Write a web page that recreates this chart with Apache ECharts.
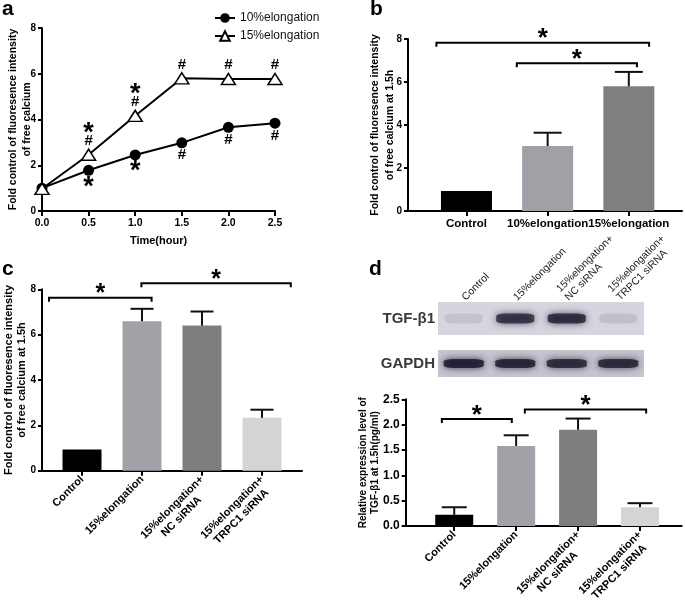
<!DOCTYPE html>
<html><head><meta charset="utf-8">
<script src="https://cdn.jsdelivr.net/npm/echarts@6/dist/echarts.min.js"></script>
<style>html,body{margin:0;padding:0;background:#fff}#c{width:685px;height:602px}</style>
</head><body><div id="c"></div>
<script>
// ---------- Panel a : time course ----------
const timeHours = [0, 0.5, 1.0, 1.5, 2.0, 2.5];
const elong10 = [1.0, 1.78, 2.45, 2.98, 3.66, 3.84];
const elong15 = [0.97, 2.46, 4.16, 5.80, 5.77, 5.77];
const marks10 = ['', '*', '*', '#', '#', '#'];
const marks15 = ['', '*#', '*#', '#', '#', '#'];
const seriesNamesA = ['10%elongation', '15%elongation'];
// ---------- Panel b ----------
const catsB = ['Control', '10%elongation', '15%elongation'];
const meanB = [0.93, 3.02, 5.80];
const errB = [0, 0.62, 0.67];
const bracketsB = [[-0.37, 2.25, 7.83], [0.62, 2.10, 6.87]];
// ---------- Panel c ----------
const catsC = ['Control', '15%elongation', '15%elongation+\nNC siRNA', '15%elongation+\nTRPC1 siRNA'];
const meanC = [0.93, 6.59, 6.40, 2.33];
const errC = [0, 0.55, 0.62, 0.36];
const bracketsC = [[-0.55, 1.16, 7.63], [0.99, 3.48, 8.27]];
// ---------- Panel d : western blot ----------
const lanesD = ['Control', '15%elongation', '15%elongation+\nNC siRNA', '15%elongation+\nTRPC1 siRNA'];
const blotRows = ['TGF-β1', 'GAPDH'];
const tgfBand = [0.10, 0.88, 0.92, 0.12];
const gapdhBand = [1.0, 0.97, 0.92, 0.94];
// ---------- Panel d : bars ----------
const catsD = ['Control', '15%elongation', '15%elongation+\nNC siRNA', '15%elongation+\nTRPC1 siRNA'];
const meanD = [0.22, 1.58, 1.90, 0.37];
const errD = [0.15, 0.21, 0.22, 0.08];
const bracketsD = [[-0.20, 0.93, 2.11], [1.14, 3.10, 2.30]];

// ---------- styling ----------
const FONT = '"Liberation Sans", Arial, Helvetica, sans-serif';
const colB = ['#000000', '#a1a0a6', '#7f7f7f'];
const colCD = ['#000000', '#a2a1a7', '#7e7e7e', '#d4d4d4'];
const axLine = {show: true, onZero: false, lineStyle: {color: '#000', width: 2}};
const axTick = (len) => ({show: true, length: len, lineStyle: {color: '#000', width: 2}});
const boldLabel = (size, margin) => ({fontFamily: FONT, fontWeight: 'bold', fontSize: size, color: '#000', margin: margin});

function yVal(gi, max, interval, size, name, nameSize, lh, gap, fmt) {
  return {gridIndex: gi, type: 'value', min: 0, max: max, interval: interval,
    axisLine: axLine, axisTick: axTick(4), splitLine: {show: false},
    axisLabel: Object.assign(boldLabel(size, 6), fmt ? {formatter: fmt} : {}),
    name: name, nameLocation: 'middle', nameRotate: 90, nameGap: gap, nameMoveOverlap: false,
    nameTextStyle: {fontFamily: FONT, fontWeight: 'bold', fontSize: nameSize, lineHeight: lh, color: '#000'}};
}
function wrapBottom(s) {
  const lines = s.split('\n');
  if (lines.length === 1) lines.push(' ');
  return lines.map(l => '{c|' + l + '}').join('\n');
}
function wrapTop(s) {
  const lines = s.split('\n');
  if (lines.length === 1) lines.unshift(' ');
  return lines.map(l => '{l|' + l + '}').join('\n');
}
function xCat(gi, cats, min, max, rotated) {
  const idx = cats.map((c, i) => i);
  const lab = rotated ? {
      customValues: idx, rotate: 45, margin: 7, padding: [13, 0, 0, 0],
      formatter: v => wrapBottom(cats[v]),
      rich: {c: {align: 'center', fontFamily: FONT, fontWeight: 'bold', fontSize: 11, lineHeight: 13, color: '#000'}}
    } : Object.assign(boldLabel(11.5, 7), {customValues: idx, formatter: v => cats[v]});
  return {gridIndex: gi, type: 'value', min: min, max: max,
    axisLine: axLine, axisTick: Object.assign(axTick(5), {customValues: idx}),
    splitLine: {show: false}, axisLabel: lab};
}
function barSeries(gi, means, cols, w) {
  return {type: 'bar', xAxisIndex: gi, yAxisIndex: gi, barWidth: w, silent: true,
    data: means.map((v, i) => ({value: [i, v], itemStyle: {color: cols[i]}}))};
}
function errSeries(gi, means, errs, cap) {
  return {type: 'custom', coordinateSystem: 'cartesian2d', xAxisIndex: gi, yAxisIndex: gi,
    silent: true, clip: false, z: 4, encode: {x: 0, y: 1},
    data: means.map((m, i) => [i, m, errs[i]]),
    renderItem: (params, api) => {
      const x = api.value(0), m = api.value(1), e = api.value(2);
      if (!e) return {type: 'group', children: []};
      const p0 = api.coord([x, m]), p1 = api.coord([x, m + e]);
      const st = {stroke: '#111', lineWidth: 2};
      return {type: 'group', children: [
        {type: 'line', shape: {x1: p0[0], y1: p0[1], x2: p1[0], y2: p1[1]}, style: st},
        {type: 'line', shape: {x1: p1[0] - cap, y1: p1[1], x2: p1[0] + cap, y2: p1[1]}, style: st}
      ]};
    }};
}
function bracketSeries(gi, data, starSize) {
  return {type: 'custom', coordinateSystem: 'cartesian2d', xAxisIndex: gi, yAxisIndex: gi,
    silent: true, clip: false, z: 5, encode: {x: [0, 1], y: 2}, data: data,
    renderItem: (params, api) => {
      const a = api.coord([api.value(0), api.value(2)]);
      const b = api.coord([api.value(1), api.value(2)]);
      const t = 4;
      return {type: 'group', children: [
        {type: 'polyline', shape: {points: [[a[0], a[1] + t], [a[0], a[1]], [b[0], b[1]], [b[0], b[1] + t]]},
          style: {stroke: '#000', lineWidth: 2, fill: 'none'}},
        {type: 'text', x: (a[0] + b[0]) / 2, y: a[1] - 3.5,
          style: {text: '*', fontSize: starSize, fontWeight: 'bold', fontFamily: FONT, fill: '#000',
            align: 'center', verticalAlign: 'middle', textAlign: 'center', textVerticalAlign: 'middle'}}
      ]};
    }};
}
function markFmt(arr, above) {
  return p => {
    const m = arr[p.dataIndex];
    if (!m) return '';
    if (m === '*#') return '{st|*}\n{h|#}';
    if (m === '*') return above ? '{st|*}' : '{sb|*}';
    return '{h|#}';
  };
}
const markRich = {
  st: {fontFamily: FONT, fontWeight: 'bold', fontSize: 27, lineHeight: 4, color: '#000'},
  sb: {fontFamily: FONT, fontWeight: 'bold', fontSize: 27, lineHeight: 21, color: '#000'},
  h: {fontFamily: FONT, fontWeight: 'bold', fontSize: 15, lineHeight: 12, color: '#000'}
};
function blotSeries(gi, band, size) {
  return {type: 'scatter', xAxisIndex: gi, yAxisIndex: gi, silent: true,
    symbol: 'roundRect', symbolSize: size,
    data: band.map((v, i) => ({value: [i, 0], itemStyle: {
      color: 'rgba(24,18,40,' + v + ')', shadowBlur: 7, shadowColor: 'rgba(24,18,40,' + v + ')'}}))};
}
const letter = (t, l, top) => ({text: t, left: l, top: top, padding: 0,
  textStyle: {fontFamily: FONT, fontWeight: 'bold', fontSize: 21, color: '#000'}});

const option = {
  backgroundColor: '#fff',
  animation: false,
  title: [letter('a', 2, -1), letter('b', 370, -1), letter('c', 2, 259), letter('d', 369, 259)],
  legend: {data: seriesNamesA, orient: 'vertical', left: 209, top: 7, itemWidth: 20, itemHeight: 12, itemGap: 6,
    textStyle: {fontFamily: FONT, fontSize: 12, color: '#111'}},
  grid: [
    {left: 42, top: 28, width: 233, height: 183, outerBoundsMode: 'none'},
    {left: 408, top: 39, width: 274, height: 172, outerBoundsMode: 'none'},
    {left: 42, top: 289.3, width: 260, height: 181.4, outerBoundsMode: 'none'},
    {left: 438, top: 302, width: 206, height: 33, show: true, backgroundColor: '#d6d4de', borderWidth: 0, outerBoundsMode: 'none'},
    {left: 438, top: 350, width: 206, height: 27, show: true, backgroundColor: '#c6c4d0', borderWidth: 0, outerBoundsMode: 'none'},
    {left: 405.7, top: 399.3, width: 276, height: 126.7, outerBoundsMode: 'none'}
  ],
  xAxis: [
    {gridIndex: 0, type: 'value', min: 0, max: 2.5, interval: 0.5, axisLine: axLine, axisTick: axTick(5),
      splitLine: {show: false}, axisLabel: Object.assign(boldLabel(10.5, 7), {formatter: v => v.toFixed(1)}),
      name: 'Time(hour)', nameLocation: 'middle', nameGap: 24, nameMoveOverlap: false,
      nameTextStyle: {fontFamily: FONT, fontWeight: 'bold', fontSize: 11, color: '#000'}},
    xCat(1, catsB, -0.72, 2.655, false),
    xCat(2, catsC, -0.667, 3.667, true),
    {gridIndex: 3, type: 'category', position: 'top', data: lanesD, axisLine: {show: false}, axisTick: {show: false},
      axisLabel: {rotate: -45, margin: 3, interval: 0, align: 'left', verticalAlign: 'middle',
        padding: [0, 0, 12, 0], formatter: v => wrapTop(v),
        rich: {l: {align: 'left', fontFamily: FONT, fontSize: 10.5, lineHeight: 12, color: '#222'}}}},
    {gridIndex: 4, type: 'category', data: lanesD, show: false},
    xCat(5, catsD, -0.784, 3.674, true)
  ],
  yAxis: [
    yVal(0, 8, 2, 10, 'Fold control of fluoresence intensity\nof free calcium', 10.5, 14, 8),
    yVal(1, 8, 2, 10, 'Fold control of fluoresence intensity\nof free calcium at 1.5h', 10.5, 15, 10),
    yVal(2, 8, 2, 10, 'Fold control of fluoresence intensity\nof free calcium at 1.5h', 11, 13, 13.5),
    {gridIndex: 3, type: 'category', data: [blotRows[0]], axisLine: {show: false}, axisTick: {show: false},
      axisLabel: {fontFamily: FONT, fontWeight: 'bold', fontSize: 15, color: '#3a3a3a', margin: 3}},
    {gridIndex: 4, type: 'category', data: [blotRows[1]], axisLine: {show: false}, axisTick: {show: false},
      axisLabel: {fontFamily: FONT, fontWeight: 'bold', fontSize: 15, color: '#3a3a3a', margin: 3}},
    yVal(5, 2.5, 0.5, 12, 'Relative expression level of\nTGF-β1 at 1.5h(pg/ml)', 10, 11.5, 25, v => v.toFixed(1))
  ],
  series: [
    {type: 'line', name: seriesNamesA[0], xAxisIndex: 0, yAxisIndex: 0, silent: true,
      data: timeHours.map((t, i) => [t, elong10[i]]),
      symbol: 'circle', symbolSize: 11, lineStyle: {color: '#000', width: 2}, itemStyle: {color: '#000'},
      label: {show: true, position: 'bottom', distance: 1, formatter: markFmt(marks10, false), rich: markRich}},
    {type: 'line', name: seriesNamesA[1], xAxisIndex: 0, yAxisIndex: 0, silent: true,
      data: timeHours.map((t, i) => [t, elong15[i]]),
      symbol: 'triangle', symbolSize: [14, 11], lineStyle: {color: '#000', width: 2},
      itemStyle: {color: '#fff', borderColor: '#000', borderWidth: 1.5},
      label: {show: true, position: 'top', distance: 1.5, formatter: markFmt(marks15, true), rich: markRich}},
    barSeries(1, meanB, colB, 51),
    errSeries(1, meanB, errB, 14),
    bracketSeries(1, bracketsB, 26),
    barSeries(2, meanC, colCD, 39),
    errSeries(2, meanC, errC, 11.5),
    bracketSeries(2, bracketsC, 25),
    blotSeries(3, tgfBand, [38, 10]),
    blotSeries(4, gapdhBand, [40, 9]),
    barSeries(5, meanD, colCD, 38),
    errSeries(5, meanD, errD, 12.5),
    bracketSeries(5, bracketsD, 26)
  ]
};
const chart = echarts.init(document.getElementById('c'), null, {renderer: 'canvas'});
chart.setOption(option);
</script></body></html>
